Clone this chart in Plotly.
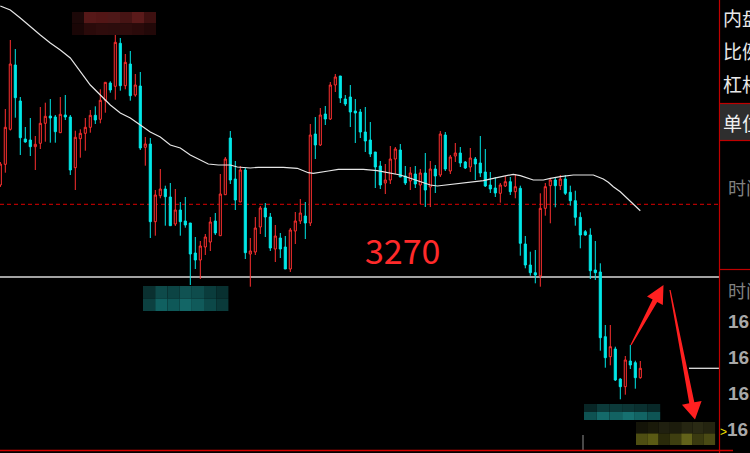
import plotly.graph_objects as go

# ---------------- data ----------------
opens = [3279.2, 3281.27, 3284.77, 3291.2, 3287.6, 3283.8, 3283.7, 3283.03, 3283.37, 3285.37,
         3286.1, 3286.0, 3284.43, 3286.2, 3286.0, 3280.93, 3283.83, 3284.37, 3284.97, 3286.17,
         3285.77, 3287.67, 3289.4, 3289.07, 3293.37, 3289.13, 3291.3, 3288.2, 3289.1, 3282.97,
         3283.3, 3275.53, 3278.13, 3278.8, 3278.0, 3275.3, 3276.7, 3275.6, 3275.4, 3272.4,
         3271.7, 3273.0, 3273.5, 3275.6, 3274.13, 3278.23, 3283.9, 3279.8, 3277.5, 3280.7,
         3272.3, 3272.5, 3275.0, 3276.9, 3276.0, 3272.8, 3273.9, 3273.0, 3270.8, 3274.6,
         3275.6, 3276.1, 3275.4, 3284.3, 3283.2, 3286.3, 3285.8, 3289.2, 3290.1, 3287.8,
         3288.0, 3286.6, 3286.5, 3284.5, 3283.7, 3282.5, 3281.1, 3279.4, 3279.7, 3281.8,
         3282.7, 3280.1, 3279.6, 3280.3, 3279.2, 3280.4, 3279.0, 3280.8, 3280.2, 3284.2,
         3280.6, 3282.1, 3282.4, 3281.5, 3281.0, 3281.8, 3281.4, 3280.5, 3279.2, 3278.9,
         3278.37, 3279.1, 3279.53, 3278.53, 3278.87, 3273.3, 3271.2, 3270.43, 3270.1, 3276.87,
         3279.13, 3279.7, 3279.13, 3279.8, 3278.47, 3277.63, 3275.97, 3274.53, 3274.2, 3270.7,
         3270.5, 3264.03, 3262.03, 3262.8, 3259.8, 3259.03, 3261.6, 3261.43, 3259.93]
highs = [3281.5, 3286.8, 3293.7, 3292.8, 3288.0, 3285.0, 3285.9, 3284.1, 3287.0, 3287.43,
         3287.8, 3286.2, 3288.0, 3288.2, 3286.2, 3284.63, 3284.77, 3285.9, 3286.7, 3287.07,
         3288.77, 3289.5, 3289.57, 3294.4, 3293.9, 3292.3, 3292.6, 3290.3, 3290.5, 3284.0,
         3283.9, 3278.7, 3280.8, 3279.13, 3279.4, 3278.8, 3277.5, 3278.0, 3275.4, 3274.0,
         3273.6, 3274.3, 3276.0, 3276.4, 3280.3, 3282.0, 3284.6, 3281.6, 3281.1, 3280.9,
         3273.9, 3276.0, 3277.1, 3277.4, 3276.4, 3275.2, 3274.4, 3274.1, 3274.9, 3276.5,
         3277.8, 3277.5, 3285.3, 3286.0, 3286.9, 3287.1, 3289.5, 3290.3, 3290.1, 3288.2,
         3289.2, 3287.8, 3286.8, 3287.0, 3285.5, 3282.5, 3281.6, 3281.3, 3283.1, 3283.0,
         3283.3, 3281.1, 3281.0, 3281.1, 3280.8, 3282.4, 3281.6, 3281.2, 3284.6, 3284.5,
         3282.2, 3283.4, 3283.0, 3281.6, 3282.9, 3282.0, 3284.1, 3282.8, 3280.5, 3280.0,
         3279.4, 3280.1, 3280.0, 3280.3, 3279.13, 3274.1, 3272.53, 3272.7, 3278.37, 3279.4,
         3279.9, 3279.9, 3280.2, 3280.2, 3279.13, 3278.63, 3276.47, 3274.7, 3274.87, 3273.6,
         3271.37, 3265.2, 3265.2, 3263.03, 3259.87, 3262.1, 3263.2, 3261.63, 3261.6]
lows = [3279.0, 3280.43, 3284.65, 3285.93, 3282.2, 3283.43, 3282.1, 3280.7, 3282.8, 3283.53,
        3283.43, 3283.43, 3284.4, 3285.7, 3280.2, 3278.7, 3281.93, 3282.63, 3284.43, 3285.3,
        3285.37, 3286.43, 3288.43, 3287.73, 3288.63, 3288.77, 3287.63, 3288.03, 3282.7, 3281.13,
        3273.9, 3274.13, 3277.87, 3275.13, 3275.13, 3275.1, 3274.13, 3274.93, 3269.2, 3270.8,
        3269.8, 3272.2, 3272.6, 3274.2, 3274.13, 3278.23, 3279.3, 3276.7, 3277.5, 3271.8,
        3269.03, 3272.2, 3274.3, 3274.0, 3272.6, 3271.5, 3271.9, 3270.8, 3270.5, 3273.3,
        3275.3, 3273.8, 3275.1, 3281.8, 3283.1, 3285.2, 3285.7, 3288.5, 3287.4, 3287.1,
        3285.0, 3283.4, 3283.9, 3282.5, 3282.0, 3278.9, 3278.8, 3278.3, 3279.3, 3280.3,
        3280.0, 3279.2, 3278.7, 3278.9, 3277.3, 3277.0, 3277.0, 3278.4, 3280.0, 3280.6,
        3280.3, 3281.5, 3281.0, 3280.8, 3280.5, 3279.7, 3280.0, 3279.0, 3278.4, 3278.0,
        3277.43, 3279.0, 3278.2, 3277.87, 3272.13, 3270.87, 3270.13, 3269.37, 3269.03, 3276.13,
        3275.37, 3276.97, 3278.7, 3278.2, 3277.13, 3275.13, 3272.87, 3274.13, 3269.8, 3269.7,
        3262.63, 3260.93, 3261.17, 3259.6, 3257.77, 3258.23, 3260.8, 3258.83, 3259.83]
closes = [3281.3, 3284.97, 3291.3, 3287.93, 3283.93, 3283.5, 3283.03, 3283.27, 3285.37, 3286.07,
          3285.9, 3284.53, 3286.27, 3286.0, 3280.7, 3283.97, 3284.37, 3284.97, 3286.17, 3285.7,
          3287.67, 3289.47, 3288.7, 3293.47, 3289.13, 3291.47, 3288.13, 3289.2, 3282.9, 3283.3,
          3275.53, 3278.2, 3278.8, 3278.03, 3275.13, 3276.7, 3275.53, 3275.2, 3272.3, 3271.7,
          3273.1, 3274.0, 3275.5, 3274.4, 3278.3, 3281.8, 3279.7, 3277.7, 3280.7, 3272.43,
          3272.6, 3274.9, 3276.9, 3276.0, 3272.9, 3274.1, 3272.8, 3270.8, 3274.7, 3275.6,
          3276.4, 3275.4, 3284.2, 3283.2, 3286.2, 3285.8, 3289.2, 3290.0, 3287.9, 3287.3,
          3286.5, 3286.4, 3284.5, 3283.6, 3282.3, 3281.0, 3279.2, 3279.7, 3281.8, 3282.8,
          3280.0, 3279.4, 3280.4, 3279.3, 3280.4, 3278.7, 3280.8, 3280.1, 3284.3, 3280.8,
          3282.0, 3282.4, 3281.4, 3280.9, 3281.9, 3281.3, 3280.4, 3279.1, 3278.8, 3278.4,
          3279.2, 3279.53, 3278.53, 3279.03, 3273.37, 3271.2, 3270.43, 3270.2, 3276.87, 3279.03,
          3279.7, 3279.13, 3279.8, 3278.37, 3277.63, 3275.97, 3274.2, 3274.2, 3270.63, 3270.43,
          3263.93, 3261.93, 3263.03, 3259.7, 3259.03, 3261.7, 3261.2, 3259.93, 3260.87]
bar_index = list(range(len(opens)))

# moving-average line at these bar positions
ma_x = [0, 2, 4, 6, 8, 10, 12, 14, 16, 18, 20, 22, 24, 26, 28, 30, 32, 34, 36, 38, 40,
        41.6, 43.6, 46, 47.4, 50, 51.6, 56.6, 59.4, 60.6, 61.6, 62.6, 63.6, 65.6, 67.6,
        72.6, 75.4, 77.6, 78.6, 80, 82, 84, 86, 87.4, 88.6, 90.6, 92.6, 94.6, 96.6, 98.6,
        100, 101.4, 102.6, 104, 105.4, 106.6, 108.6, 110, 112, 113.4, 114.6, 118.6, 119.6,
        120.6, 121.6, 122.6, 124, 125.4, 126.6, 128]
ma_y = [3297.1, 3296.7, 3295.9, 3295.0, 3294.2, 3293.4, 3292.7, 3291.9, 3290.5, 3289.2, 3288.2,
        3287.2, 3286.4, 3285.9, 3285.2, 3284.5, 3284.0, 3283.2, 3282.9, 3282.2, 3281.7,
        3281.3, 3281.2, 3281.2, 3281.0, 3280.9, 3280.97, 3280.97, 3280.87, 3280.6, 3280.43,
        3280.37, 3280.47, 3280.6, 3280.77, 3280.77, 3280.63, 3280.43, 3280.37, 3280.2, 3279.87,
        3279.53, 3279.2, 3279.1, 3279.17, 3279.27, 3279.37, 3279.53, 3279.63, 3279.87,
        3280.03, 3280.13, 3280.27, 3280.13, 3279.87, 3279.7, 3279.7, 3279.87, 3280.03, 3280.13,
        3280.2, 3280.2, 3280.03, 3279.8, 3279.47, 3279.03, 3278.53, 3277.87, 3277.27, 3276.63]

support_level = 3270.0
dash_level = 3277.27
last_price = 3260.87
big_label = "3270"
panel_labels = ["内盘", "比例", "杠杆"]
unit_label = "单位"
time_label = "时间"
time_ticks = ["16", "16", "16", "16"]

# ---------------- styling ----------------
RED = "#ff3030"
CYAN = "#00e8e8"
W, H = 750, 453
PW, PH = 719, 450          # plot area in pixels
Y_TOP, Y_BOT = 3297.7, 3252.7

def px(x):
    return x / PW

def py(y):
    return 1 - y / PH

fig = go.Figure()
fig.add_trace(go.Candlestick(
    x=bar_index, open=opens, high=highs, low=lows, close=closes,
    increasing=dict(line=dict(color=RED, width=1), fillcolor="#000000"),
    decreasing=dict(line=dict(color=CYAN, width=1), fillcolor=CYAN),
    whiskerwidth=0, hoverinfo="skip", showlegend=False))
fig.add_trace(go.Scatter(x=ma_x, y=ma_y, mode="lines",
                         line=dict(color="#e6e6e6", width=1.2),
                         hoverinfo="skip", showlegend=False))

shapes = []
# horizontal reference lines
shapes.append(dict(type="line", xref="paper", yref="y", x0=0, x1=1,
                   y0=support_level, y1=support_level,
                   line=dict(color="#d8d8d8", width=1.5), layer="below"))
shapes.append(dict(type="line", xref="paper", yref="y", x0=0, x1=1,
                   y0=dash_level, y1=dash_level,
                   line=dict(color="#b00000", width=1.2, dash="4px,3px"), layer="below"))
shapes.append(dict(type="line", xref="paper", yref="y", x0=px(689), x1=1,
                   y0=last_price, y1=last_price,
                   line=dict(color="#e0e0e0", width=1.3)))

# mosaic (pixelated) patches
def mosaic(x0, y0, cw, ch, rows):
    for r, row in enumerate(rows):
        for c, col in enumerate(row):
            shapes.append(dict(type="rect", xref="paper", yref="paper",
                               x0=px(x0 + c * cw), x1=px(x0 + (c + 1) * cw),
                               y0=py(y0 + (r + 1) * ch), y1=py(y0 + r * ch),
                               fillcolor=col, line=dict(width=0)))

mosaic(72, 12, 12, 11.5, [
    ["#1c0808", "#561818", "#521616", "#4e1818", "#461414", "#5a1a1a", "#3e1010"],
    ["#1a0606", "#2a0a0a", "#2e0c0c", "#2c0c0c", "#2e0c0c", "#2a0a0a", "#220808"]])
mosaic(143, 286, 12.2, 12.5, [
    ["#0a3030", "#0e4a4a", "#0c4444", "#105252", "#0e4c4c", "#0a3c3c", "#083030"],
    ["#0c4040", "#106060", "#0e5858", "#136666", "#105a5a", "#0c4848", "#0a3a3a"]])
mosaic(584, 404, 12.7, 8, [
    ["#082626", "#0c3a3a", "#0c3a3a", "#0c3636", "#0a3030", "#082828"],
    ["#0e5252", "#146a6a", "#126262", "#167070", "#126464", "#0e5454"]])
mosaic(636, 422, 11.3, 11.5, [
    ["#141408", "#1a1a0a", "#202010", "#1c1c0c", "#262612", "#2a2a14", "#242410"],
    ["#4e4e12", "#5a5a14", "#2a2a0a", "#3e3e10", "#62621a", "#3a3a10", "#4a4a14"]])

# small grey tick at the bottom
shapes.append(dict(type="line", xref="paper", yref="paper", x0=px(583), x1=px(583),
                   y0=py(450), y1=py(435), line=dict(color="#909090", width=1)))

# arrows (tapered red arrows)
def arrow(tail, tip, head_len, head_half, w0, w1):
    dx, dy = tip[0] - tail[0], tip[1] - tail[1]
    L = (dx * dx + dy * dy) ** 0.5
    ux, uy = dx / L, dy / L
    nx, ny = -uy, ux
    bx, by = tip[0] - head_len * ux, tip[1] - head_len * uy
    pts = [(tail[0] + w0 * nx, tail[1] + w0 * ny),
           (bx + w1 * nx, by + w1 * ny),
           (bx + head_half * nx, by + head_half * ny),
           tip,
           (bx - head_half * nx, by - head_half * ny),
           (bx - w1 * nx, by - w1 * ny),
           (tail[0] - w0 * nx, tail[1] - w0 * ny)]
    path = "M " + " L ".join(f"{px(a):.5f},{py(b):.5f}" for a, b in pts) + " Z"
    shapes.append(dict(type="path", xref="paper", yref="paper", path=path,
                       fillcolor="#ff2020", line=dict(width=0)))

arrow((631, 345), (663.5, 285), 18, 9, 0.6, 2.6)
arrow((670, 290), (695, 419.5), 17, 10, 0.6, 2.6)

# frame lines (red)
shapes.append(dict(type="line", xref="paper", yref="paper", x0=px(719.5), x1=px(719.5),
                   y0=py(453), y1=py(0), line=dict(color="#c00000", width=1.2)))
shapes.append(dict(type="line", xref="paper", yref="paper", x0=0, x1=px(733),
                   y0=py(450.5), y1=py(450.5), line=dict(color="#d00000", width=1.5)))
shapes.append(dict(type="rect", xref="paper", yref="paper", x0=px(720), x1=px(750),
                   y0=py(140), y1=py(104), fillcolor="#2e2e2e", line=dict(width=0)))
for yy in (103.5, 140.5, 269.5):
    shapes.append(dict(type="line", xref="paper", yref="paper", x0=px(719.5), x1=px(750),
                       y0=py(yy), y1=py(yy), line=dict(color="#c00000", width=1.2)))

annotations = []
annotations.append(dict(xref="x", yref="y", x=80.4, y=3272.8, text=big_label,
                        showarrow=False, xanchor="center", yanchor="middle",
                        font=dict(family="Noto Sans CJK SC", size=34, color="#ff2a2a")))
CJK = "Noto Sans CJK SC"
for lab, yy in zip(panel_labels, (17, 50, 84)):
    annotations.append(dict(xref="paper", yref="paper", x=px(721), y=py(yy), text=lab,
                            showarrow=False, xanchor="left", yanchor="middle",
                            font=dict(family=CJK, size=19, color="#e8e8e8")))
annotations.append(dict(xref="paper", yref="paper", x=px(721), y=py(123), text=unit_label,
                        showarrow=False, xanchor="left", yanchor="middle",
                        font=dict(family=CJK, size=19, color="#f0f0f0")))
for yy in (187, 290):
    annotations.append(dict(xref="paper", yref="paper", x=px(726), y=py(yy), text=time_label,
                            showarrow=False, xanchor="left", yanchor="middle",
                            font=dict(family=CJK, size=18, color="#808080")))
tick_rows = (321, 357, 393, 429)
for i, (lab, yy) in enumerate(zip(time_ticks, tick_rows)):
    last = i == len(time_ticks) - 1
    if last:
        txt = "<span style='color:#f0e000;font-size:12px'>&gt;</span><b>" + lab + "</b>"
        x0 = 719
    else:
        txt = "<b>" + lab + "</b>"
        x0 = 727
    annotations.append(dict(xref="paper", yref="paper", x=px(x0), y=py(yy), text=txt,
                            showarrow=False, xanchor="left", yanchor="middle", borderpad=0,
                            font=dict(family="Liberation Sans", size=19, color="#a8a8a8")))

fig.update_layout(
    width=W, height=H,
    margin=dict(l=0, r=W - PW, t=0, b=H - PH, pad=0),
    paper_bgcolor="#000000", plot_bgcolor="#000000",
    boxgap=0.4,
    shapes=shapes, annotations=annotations,
    xaxis=dict(range=[-0.06, 143.74], visible=False, showgrid=False, zeroline=False,
               rangeslider=dict(visible=False), fixedrange=True),
    yaxis=dict(range=[Y_BOT, Y_TOP], visible=False, showgrid=False, zeroline=False,
               fixedrange=True),
    showlegend=False,
)

fig.write_html("out.html", config={"displayModeBar": False},
               post_script="document.body.style.margin='0';document.body.style.overflow='hidden';")
